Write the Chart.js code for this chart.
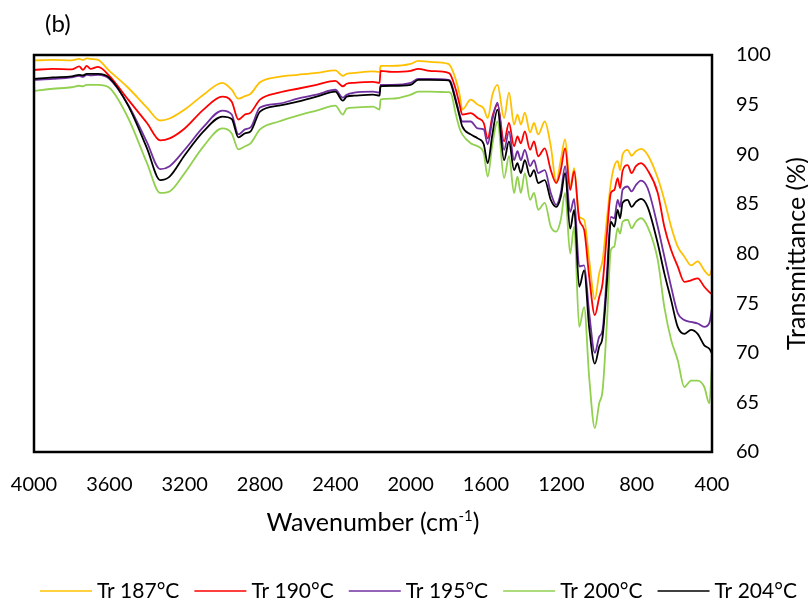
<!DOCTYPE html>
<html>
<head>
<meta charset="utf-8">
<title>FTIR spectra</title>
<script src="https://cdn.jsdelivr.net/npm/chart.js@4.4.1/dist/chart.umd.min.js"></script>
<style>
  html, body { margin: 0; padding: 0; background: #fff; }
  #wrap { position: relative; width: 808px; height: 603px; }
</style>
</head>
<body>
<div id="wrap"><canvas id="ftir"></canvas></div>
<script>
// wavenumber grid (cm-1), shared by all spectra
const wavenumbers = [
  4000, 3900, 3800, 3760, 3740, 3720, 3700, 3660,
  3600, 3500, 3400, 3330, 3280, 3200, 3100, 3000, 2950, 2915, 2880, 2850,
  2800, 2700, 2600, 2500, 2400, 2360, 2340, 2300, 2200, 2165, 2160, 2100, 2000, 1960, 1900, 1800,
  1788, 1760, 1740, 1726, 1681, 1644, 1612, 1591, 1566, 1539, 1504, 1478, 1451, 1433, 1415, 1394, 1366, 1345, 1323, 1288,
  1256, 1227, 1203, 1180, 1153, 1132,
  1105, 1079, 1052, 1022, 999, 981, 958, 937,
  919, 901, 888, 875, 848, 827, 804, 777, 742, 688, 653, 617, 582, 547, 511, 476, 441, 414, 400
];

// transmittance (%) for each reaction temperature
const tr187 = [
  99.45, 99.5, 99.45, 99.6, 99.5, 99.65, 99.6, 99.5,
  98.4, 96.7, 94.7, 93.4, 93.6, 94.5, 96.0, 97.2, 96.5, 95.6, 95.85, 96.1,
  97.25, 97.8, 98.0, 98.2, 98.45, 97.9, 98.1, 98.2, 98.35, 98.3, 98.9, 98.9, 99.1, 99.4, 99.3, 99.1,
  98.85, 97.5, 96.0, 94.5, 95.5, 95.0, 94.6, 93.65, 96.0, 97.0, 93.65, 96.2, 93.0, 94.0, 93.0, 94.2, 92.2, 93.15, 92.0, 93.3,
  90.8, 87.25, 89.4, 91.5, 86.75, 88.6,
  83.7, 83.4, 79.3, 75.4, 78.0, 79.3, 83.5, 87.1,
  88.8, 89.3, 88.4, 89.95, 90.45, 89.85, 90.3, 90.55, 89.95, 87.6, 85.4, 82.7, 80.7, 79.7, 78.8, 79.2, 78.3, 77.8, 78.5
];
const tr190 = [
  98.5, 98.6, 98.55, 98.85, 98.5, 98.9, 98.6, 98.8,
  97.9, 95.5, 93.15, 91.4, 91.6, 92.6, 94.5, 95.8, 95.3, 93.5, 94.0, 94.2,
  95.5, 96.2, 96.6, 97.0, 97.4, 96.85, 97.1, 97.2, 97.3, 97.2, 98.4, 98.3, 98.4, 98.6, 98.4, 98.2,
  98.0, 96.5, 95.0, 94.0, 94.15, 93.65, 93.15, 91.6, 93.8, 95.0, 91.3, 93.15, 90.8, 91.8, 91.1, 92.3, 90.45, 91.3, 89.8, 90.6,
  88.4, 87.1, 88.4, 90.6, 86.4, 88.3,
  83.4, 82.4, 77.65, 73.8, 75.6, 77.0, 82.0, 86.1,
  86.4, 87.6, 86.6, 88.3, 88.9, 88.1, 88.8, 89.1, 88.4, 86.1, 82.7, 80.35, 78.7, 77.15, 77.3, 77.5, 76.65, 76.1, 75.9
];
const tr195 = [
  97.5, 97.6, 97.75, 97.9, 97.8, 98.0, 97.95, 98.0,
  97.6, 95.0, 91.2, 88.5, 88.8, 90.45, 92.75, 94.4, 94.0, 92.0, 92.5, 92.7,
  94.7, 95.1, 95.6, 96.0, 96.5, 95.7, 96.0, 96.2, 96.3, 96.2, 97.0, 97.0, 97.2, 97.6, 97.6, 97.5,
  97.35, 95.5, 94.0, 93.3, 93.3, 92.6, 92.5, 91.0, 93.5, 95.2, 90.45, 92.3, 89.4, 90.3, 89.4, 90.45, 88.8, 89.4, 88.1, 88.4,
  86.1, 84.9, 86.1, 88.8, 84.2, 85.5,
  78.7, 78.8, 74.0, 70.0, 71.6, 72.3, 78.0, 83.7,
  83.55, 85.4, 84.7, 86.4, 86.75, 86.25, 86.9, 87.35, 86.6, 82.7, 79.7, 76.65, 74.0, 73.3, 73.1, 72.95, 72.6, 73.0, 74.5
];
const tr200 = [
  96.4, 96.6, 96.75, 96.9, 96.85, 97.0, 97.0, 97.0,
  96.7, 93.65, 89.1, 86.1, 86.25, 88.1, 90.8, 92.6, 92.1, 90.5, 90.8, 91.1,
  92.5, 93.3, 93.9, 94.4, 94.9, 94.0, 94.6, 94.7, 94.8, 94.5, 95.5, 95.6, 96.0, 96.3, 96.3, 96.25,
  96.2, 94.0, 92.6, 92.0, 91.1, 90.8, 90.1, 87.75, 91.0, 93.3, 87.6, 89.8, 86.1, 87.75, 86.1, 88.1, 85.4, 86.1, 84.4, 85.1,
  82.7, 82.2, 83.4, 86.1, 80.0, 82.7,
  72.6, 74.6, 67.5, 62.4, 64.9, 66.2, 73.0, 80.35,
  80.7, 82.55, 82.0, 83.2, 83.4, 82.55, 83.2, 83.55, 82.7, 79.35, 74.6, 71.3, 69.25, 66.55, 67.2, 67.2, 66.55, 64.9, 68.9
];
const tr204 = [
  97.6, 97.75, 97.85, 98.0, 97.95, 98.1, 98.1, 98.1,
  97.7, 94.9, 90.6, 87.4, 87.75, 89.9, 92.3, 93.8, 93.55, 91.7, 92.1, 92.3,
  94.3, 94.9, 95.3, 95.8, 96.3, 95.4, 95.8, 95.9, 96.0, 95.9, 96.85, 96.9, 97.0, 97.5, 97.5, 97.45,
  97.2, 95.3, 93.8, 92.8, 92.0, 91.6, 91.0, 89.1, 92.0, 94.5, 89.4, 91.3, 88.4, 89.1, 88.1, 89.4, 87.75, 88.4, 87.1, 87.4,
  85.4, 84.7, 85.7, 88.1, 82.5, 84.4,
  76.65, 78.3, 72.5, 68.9, 70.6, 71.6, 77.0, 83.2,
  82.7, 84.4, 83.55, 85.1, 85.4, 84.7, 85.2, 85.5, 84.7, 81.0, 78.0, 75.3, 72.6, 71.9, 72.3, 71.9, 70.75, 70.4, 69.9
];

const seriesLabels = ['Tr 187°C', 'Tr 190°C', 'Tr 195°C', 'Tr 200°C', 'Tr 204°C'];
const seriesValues = [tr187, tr190, tr195, tr200, tr204];
const seriesColors = ['#FFC000', '#FF0000', '#7030A0', '#92D050', '#000000'];

const xTicks = [4000, 3600, 3200, 2800, 2400, 2000, 1600, 1200, 800, 400];
const yTicks = [60, 65, 70, 75, 80, 85, 90, 95, 100];

const FONT = 'Lato, "Open Sans", sans-serif';

// box around the plot, panel letter, axis titles and the legend row
const frameAndTitles = {
  id: 'frameAndTitles',
  afterDatasetsDraw(chart) {
    const { ctx, chartArea: a } = chart;
    ctx.save();
    ctx.strokeStyle = '#000';
    ctx.lineWidth = 2.5;
    ctx.strokeRect(a.left, a.top, a.right - a.left, a.bottom - a.top);

    ctx.fillStyle = '#000';
    ctx.textBaseline = 'alphabetic';
    ctx.textAlign = 'left';

    ctx.font = '24px ' + FONT;
    ctx.fillText('(b)', 45, 32);

    // x title: Wavenumber (cm^-1)
    const big = '25px ' + FONT, small = '15px ' + FONT;
    const p1 = 'Wavenumber (cm', p2 = '-1', p3 = ')';
    ctx.font = big;
    const w1 = ctx.measureText(p1).width, w3 = ctx.measureText(p3).width;
    ctx.font = small;
    const w2 = ctx.measureText(p2).width;
    let x = (a.left + a.right) / 2 - (w1 + w2 + w3) / 2;
    const base = 531;
    ctx.font = big;
    ctx.fillText(p1, x, base);
    x += w1;
    ctx.font = small;
    ctx.fillText(p2, x, base - 10);
    x += w2;
    ctx.font = big;
    ctx.fillText(p3, x, base);

    // legend row
    ctx.font = '21px ' + FONT;
    ctx.textBaseline = 'middle';
    let lx = 40;
    const ly = 591;
    chart.data.datasets.forEach(ds => {
      ctx.strokeStyle = ds.borderColor;
      ctx.lineWidth = 1.6;
      ctx.beginPath();
      ctx.moveTo(lx, ly);
      ctx.lineTo(lx + 52, ly);
      ctx.stroke();
      ctx.fillText(ds.label, lx + 57, ly);
      lx += 57 + ctx.measureText(ds.label).width + 15;
    });

    // y title, reading bottom to top
    ctx.translate(797, (a.top + a.bottom) / 2);
    ctx.rotate(-Math.PI / 2);
    ctx.font = big;
    ctx.textAlign = 'center';
    ctx.fillText('Transmittance (%)', 0, 0);
    ctx.restore();
  }
};

new Chart(document.getElementById('ftir'), {
  type: 'line',
  data: {
    datasets: seriesLabels.map((label, i) => ({
      label,
      data: wavenumbers.map((w, k) => ({ x: w, y: seriesValues[i][k] })),
      borderColor: seriesColors[i],
      backgroundColor: seriesColors[i],
      borderWidth: 1.8,
      pointRadius: 0,
      cubicInterpolationMode: 'monotone',
      order: seriesLabels.length - i
    }))
  },
  options: {
    responsive: true,
    maintainAspectRatio: false,
    animation: false,
    layout: { padding: { left: 34, top: 55, right: 0, bottom: 0 } },
    scales: {
      x: {
        type: 'linear',
        reverse: true,
        min: 400,
        max: 4000,
        afterBuildTicks(scale) { scale.ticks = xTicks.map(v => ({ value: v })); },
        afterFit(scale) {
          scale.height = 151;
          scale.paddingLeft = 0;
          scale.paddingRight = 0;
        },
        grid: { display: false, drawTicks: false },
        border: { display: false },
        ticks: {
          autoSkip: false,
          maxRotation: 0,
          padding: 21,
          color: '#000',
          font: { family: FONT, size: 20 },
          callback: v => String(v)
        }
      },
      y: {
        position: 'right',
        min: 60,
        max: 100,
        afterBuildTicks(scale) { scale.ticks = yTicks.map(v => ({ value: v })); },
        afterFit(scale) {
          scale.width = 96;
          scale.paddingTop = 0;
          scale.paddingBottom = 0;
        },
        grid: { display: false, drawTicks: false },
        border: { display: false },
        ticks: {
          padding: 24,
          color: '#000',
          font: { family: FONT, size: 20 }
        }
      }
    },
    plugins: {
      legend: { display: false },
      tooltip: { enabled: false }
    }
  },
  plugins: [frameAndTitles]
});
</script>
</body>
</html>
